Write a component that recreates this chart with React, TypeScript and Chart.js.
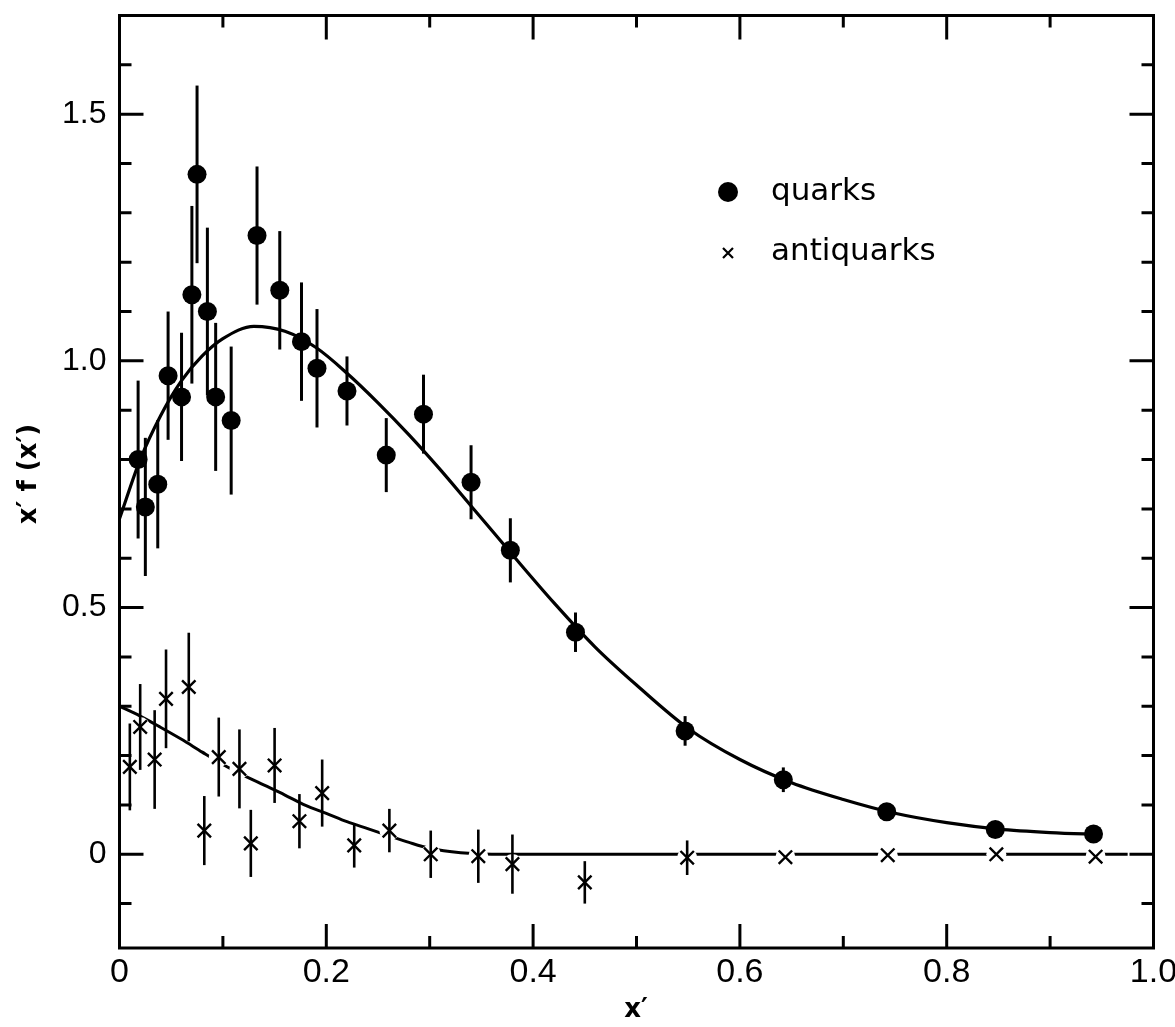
import React, { useEffect, useRef } from "react";
import { Chart, registerables } from "chart.js";

Chart.register(...registerables);

// ---- data ----
const quarkX = [0.018, 0.025, 0.037, 0.047, 0.060, 0.070, 0.075, 0.085, 0.093, 0.108, 0.133, 0.155, 0.176, 0.191, 0.220, 0.258, 0.294, 0.340, 0.378, 0.441, 0.547, 0.642, 0.742, 0.847, 0.942];
const quarkY = [0.80, 0.704, 0.75, 0.97, 0.927, 1.134, 1.378, 1.10, 0.927, 0.879, 1.254, 1.143, 1.039, 0.985, 0.939, 0.809, 0.892, 0.754, 0.616, 0.45, 0.25, 0.151, 0.086, 0.05, 0.041];
const quarkErr = [0.16, 0.14, 0.13, 0.13, 0.13, 0.18, 0.18, 0.17, 0.15, 0.15, 0.14, 0.12, 0.12, 0.12, 0.07, 0.075, 0.08, 0.075, 0.065, 0.04, 0.03, 0.025, 0.01, 0.01, 0.01];

const antiX = [0.010, 0.020, 0.034, 0.045, 0.067, 0.082, 0.096, 0.116, 0.127, 0.150, 0.174, 0.196, 0.227, 0.261, 0.301, 0.347, 0.380, 0.450, 0.549, 0.644, 0.743, 0.848, 0.944];
const antiY = [0.177, 0.258, 0.192, 0.315, 0.339, 0.048, 0.197, 0.173, 0.022, 0.18, 0.067, 0.124, 0.018, 0.048, 0.0, -0.004, -0.02, -0.057, -0.007, -0.006, -0.002, 0.0, -0.005];
const antiErr = [0.088, 0.087, 0.1, 0.1, 0.11, 0.07, 0.08, 0.08, 0.068, 0.076, 0.055, 0.068, 0.045, 0.044, 0.048, 0.054, 0.06, 0.043, 0.035, 0, 0, 0, 0];

const quarkFitX = [0, 0.02, 0.04, 0.06, 0.08, 0.10, 0.13, 0.16, 0.19, 0.22, 0.25, 0.28, 0.31, 0.34, 0.38, 0.42, 0.46, 0.50, 0.55, 0.60, 0.65, 0.70, 0.75, 0.80, 0.85, 0.90, 0.95];
const quarkFitY = [0.68, 0.80, 0.89, 0.96, 1.01, 1.045, 1.07, 1.06, 1.027, 0.975, 0.915, 0.85, 0.78, 0.706, 0.607, 0.51, 0.42, 0.343, 0.255, 0.192, 0.145, 0.111, 0.083, 0.064, 0.051, 0.044, 0.04];

const antiFitX = [0, 0.02, 0.04, 0.06, 0.08, 0.10, 0.12, 0.14, 0.16, 0.18, 0.20, 0.22, 0.24, 0.26, 0.28, 0.30, 0.33, 0.36, 0.40, 0.50, 0.60, 0.70, 0.80, 0.90, 0.975];
const antiFitY = [0.30, 0.28, 0.257, 0.233, 0.207, 0.182, 0.16, 0.14, 0.12, 0.099, 0.083, 0.066, 0.052, 0.038, 0.024, 0.012, 0.003, 0.0, 0, 0, 0, 0, 0, 0, 0];

const xTickLabels = ["0", "0.2", "0.4", "0.6", "0.8", "1.0"];
const yTickLabels = ["0", "0.5", "1.0", "1.5"];
const legendLabels = ["quarks", "antiquarks"];
const xTitle = "x\u2032";
const yTitle = "x\u2032 f (x\u2032)";

const labelFor = (labels: string[], v: number) => {
  const hit = labels.find((l) => Math.abs(parseFloat(l) - v) < 1e-6);
  return hit === undefined ? "" : hit;
};

const pts = (xs: number[], ys: number[]) => xs.map((x, i) => ({ x, y: ys[i] }));

const decorPlugin = {
  id: "decor",
  afterDatasetsDraw(chart: any) {
    const { ctx, chartArea: a, scales } = chart;
    const x = scales.x;
    const y = scales.y;
    ctx.save();
    ctx.strokeStyle = "#000";
    ctx.fillStyle = "#000";
    ctx.lineCap = "butt";

    // error bars
    const bars = (xs: number[], ys: number[], es: number[], w: number) => {
      ctx.lineWidth = w;
      xs.forEach((v: number, i: number) => {
        if (!es[i]) return;
        const px = x.getPixelForValue(v);
        ctx.beginPath();
        ctx.moveTo(px, y.getPixelForValue(ys[i] + es[i]));
        ctx.lineTo(px, y.getPixelForValue(ys[i] - es[i]));
        ctx.stroke();
      });
    };
    bars(quarkX, quarkY, quarkErr, 3);
    bars(antiX, antiY, antiErr, 2.6);

    // frame
    ctx.lineWidth = 3;
    ctx.strokeRect(a.left, a.top, a.right - a.left, a.bottom - a.top);

    // inside ticks
    ctx.lineWidth = 3;
    x.ticks.forEach((t: any) => {
      const v = t.value;
      if (v <= x.min + 1e-9 || v >= x.max - 1e-9) return;
      const major = Math.round(v * 10) % 2 === 0;
      const len = major ? 24 : 12;
      const px = x.getPixelForValue(v);
      ctx.beginPath();
      ctx.moveTo(px, a.bottom);
      ctx.lineTo(px, a.bottom - len);
      ctx.moveTo(px, a.top);
      ctx.lineTo(px, a.top + len);
      ctx.stroke();
    });
    y.ticks.forEach((t: any) => {
      const v = t.value;
      if (v <= y.min + 1e-9 || v >= y.max - 1e-9) return;
      const major = Math.round(v * 10) % 5 === 0;
      const len = major ? 24 : 12;
      const py = y.getPixelForValue(v);
      ctx.beginPath();
      ctx.moveTo(a.left, py);
      ctx.lineTo(a.left + len, py);
      ctx.moveTo(a.right, py);
      ctx.lineTo(a.right - len, py);
      ctx.stroke();
    });

    // legend
    ctx.beginPath();
    ctx.arc(728, 192, 10, 0, Math.PI * 2);
    ctx.fill();
    ctx.lineWidth = 2.2;
    ctx.beginPath();
    ctx.moveTo(723, 248);
    ctx.lineTo(733, 258);
    ctx.moveTo(733, 248);
    ctx.lineTo(723, 258);
    ctx.stroke();
    ctx.font = "31px 'DejaVu Sans'";
    ctx.textAlign = "left";
    ctx.textBaseline = "alphabetic";
    ctx.fillText(legendLabels[0], 771, 200);
    ctx.fillText(legendLabels[1], 771, 260);

    // axis titles
    ctx.font = "bold 26px 'DejaVu Sans'";
    ctx.textAlign = "center";
    ctx.textBaseline = "middle";
    ctx.fillText(xTitle, 636, 1010);
    ctx.save();
    ctx.translate(29, 474);
    ctx.rotate(-Math.PI / 2);
    ctx.fillText(yTitle, 0, 0);
    ctx.restore();

    ctx.restore();
  },
};

export default function App() {
  const ref = useRef<HTMLCanvasElement | null>(null);

  useEffect(() => {
    if (!ref.current) return;
    const chart = new Chart(ref.current, {
      type: "scatter",
      data: {
        datasets: [
          {
            label: legendLabels[0],
            data: pts(quarkX, quarkY),
            pointStyle: "circle",
            pointRadius: 9.5,
            backgroundColor: "#000",
            borderColor: "#000",
            borderWidth: 0,
            order: 0,
          } as any,
          {
            label: legendLabels[1],
            data: pts(antiX, antiY),
            pointStyle: "crossRot",
            pointRadius: 9.5,
            borderColor: "#000",
            borderWidth: 2.4,
            order: 1,
          } as any,
          {
            label: "halo",
            data: pts(antiX, antiY),
            pointStyle: "circle",
            pointRadius: 10,
            backgroundColor: "#fff",
            borderWidth: 0,
            order: 2,
          } as any,
          {
            type: "line",
            label: "quark fit",
            data: pts(quarkFitX, quarkFitY),
            borderColor: "#000",
            borderWidth: 3.2,
            pointRadius: 0,
            fill: false,
            cubicInterpolationMode: "monotone",
            order: 3,
          } as any,
          {
            type: "line",
            label: "antiquark fit",
            data: pts(antiFitX, antiFitY),
            borderColor: "#000",
            borderWidth: 3,
            pointRadius: 0,
            fill: false,
            cubicInterpolationMode: "monotone",
            order: 4,
          } as any,
        ],
      },
      options: {
        animation: false,
        responsive: false,
        devicePixelRatio: 1,
        layout: { padding: { top: 15.5, right: 21.5, left: 0, bottom: 0 } },
        plugins: { legend: { display: false }, tooltip: { enabled: false } },
        scales: {
          x: {
            type: "linear",
            min: 0,
            max: 1,
            grid: { display: false, drawTicks: false },
            border: { display: false },
            ticks: {
              stepSize: 0.1,
              autoSkip: false,
              maxRotation: 0,
              minRotation: 0,
              padding: 4,
              color: "#000",
              font: { family: "'Liberation Sans'", size: 34 },
              callback: (v: any) => labelFor(xTickLabels, Number(v)),
            },
            afterFit: (s: any) => {
              s.height = 79;
              s.paddingLeft = 0;
              s.paddingRight = 0;
            },
          },
          y: {
            type: "linear",
            min: -0.19,
            max: 1.7,
            grid: { display: false, drawTicks: false },
            border: { display: false },
            ticks: {
              stepSize: 0.1,
              includeBounds: false,
              autoSkip: false,
              padding: 13,
              color: "#000",
              font: { family: "'Liberation Sans'", size: 32 },
              callback: (v: any) => labelFor(yTickLabels, Number(v)),
            },
            afterFit: (s: any) => {
              s.width = 119.5;
              s.paddingTop = 0;
              s.paddingBottom = 0;
            },
          },
        },
      } as any,
      plugins: [decorPlugin],
    });
    return () => chart.destroy();
  }, []);

  return (
    <div style={{ position: "absolute", left: 0, top: 0, width: 1175, height: 1027, background: "#fff" }}>
      <canvas ref={ref} width={1175} height={1027} style={{ display: "block" }} />
    </div>
  );
}
